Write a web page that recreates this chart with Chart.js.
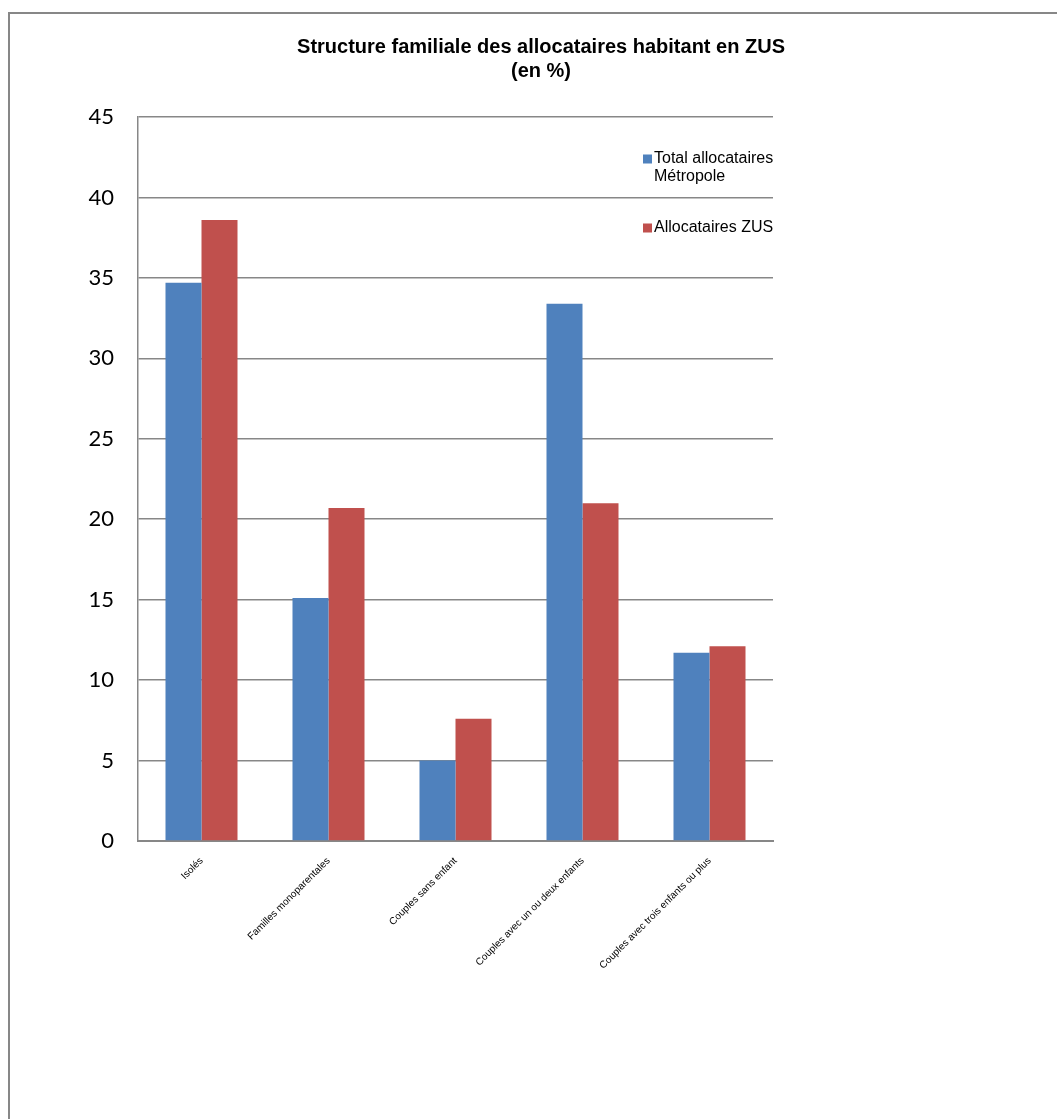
<!DOCTYPE html>
<html>
<head>
    <meta charset="UTF-8">
    <title>Structure familiale des allocataires habitant en ZUS</title>
    <script src="https://cdn.jsdelivr.net/npm/chart.js"></script>
    <style>
        body { margin: 0; overflow: hidden; background: #fff; }
        #cadre { position: absolute; left: 8px; top: 12px; width: 1100px; height: 1200px; border: 2px solid #878787; }
        #graphique { position: absolute; left: 0; top: 0; }
    </style>
</head>
<body>
    <div id="cadre"></div>
    <canvas id="graphique" width="1057" height="1119"></canvas>

    <script>
        // données
        const categories = [
            "Isolés",
            "Familles monoparentales",
            "Couples sans enfant",
            "Couples avec un ou deux enfants",
            "Couples avec trois enfants ou plus"
        ];
        const totalMetropole = [34.7, 15.1, 5.0, 33.4, 11.7];
        const allocatairesZus = [38.6, 20.7, 7.6, 21.0, 12.1];
        const titre = ["Structure familiale des allocataires habitant en ZUS", "(en %)"];
        const legende = [
            { texte: ["Total allocataires", "Métropole"], couleur: "#4F81BD" },
            { texte: ["Allocataires ZUS"], couleur: "#C0504D" }
        ];

        const bleu = "#4F81BD";
        const rouge = "#C0504D";
        const gris = "#878787";

        // titre et légende dessinés à la main (légende sur deux lignes)
        const habillage = {
            id: "habillage",
            afterDraw(chart) {
                const ctx = chart.ctx;
                ctx.save();
                ctx.fillStyle = "#000";
                ctx.textAlign = "center";
                ctx.textBaseline = "middle";
                ctx.font = "bold 20px 'Liberation Sans', Arial, sans-serif";
                titre.forEach((ligne, i) => ctx.fillText(ligne, 541, 47 + i * 24));

                ctx.textAlign = "left";
                ctx.font = "16px 'Liberation Sans', Arial, sans-serif";
                let y = 159;
                legende.forEach(item => {
                    ctx.fillStyle = item.couleur;
                    ctx.fillRect(643, y - 4.5, 9, 9);
                    ctx.fillStyle = "#000";
                    item.texte.forEach((ligne, j) => ctx.fillText(ligne, 654, y + j * 18));
                    y += 69;
                });
                ctx.restore();
            }
        };

        new Chart(document.getElementById("graphique"), {
            type: "bar",
            data: {
                labels: categories,
                datasets: [
                    { label: "Total allocataires Métropole", data: totalMetropole, backgroundColor: bleu },
                    { label: "Allocataires ZUS", data: allocatairesZus, backgroundColor: rouge }
                ]
            },
            options: {
                responsive: false,
                animation: false,
                events: [],
                layout: { padding: { left: 0, right: 284, top: 117, bottom: 128 } },
                datasets: { bar: { categoryPercentage: 0.567, barPercentage: 1.0 } },
                plugins: {
                    legend: { display: false },
                    title: { display: false },
                    tooltip: { enabled: false }
                },
                scales: {
                    x: {
                        grid: { display: false },
                        border: { display: true, color: gris, width: 2 },
                        ticks: {
                            color: "#000",
                            font: { family: "'Liberation Sans', Arial, sans-serif", size: 10 },
                            minRotation: 45,
                            maxRotation: 45,
                            padding: 6
                        },
                        afterFit(scale) { scale.height = 150; }
                    },
                    y: {
                        min: 0,
                        max: 45,
                        ticks: {
                            stepSize: 5,
                            color: "#000",
                            font: { family: "Lato, sans-serif", size: 22 },
                            padding: 24
                        },
                        grid: { color: gris, lineWidth: 1.5, drawTicks: false },
                        border: { display: true, color: gris, width: 1.5 },
                        afterFit(scale) { scale.width = 138; }
                    }
                }
            },
            plugins: [habillage]
        });
    </script>
</body>
</html>
